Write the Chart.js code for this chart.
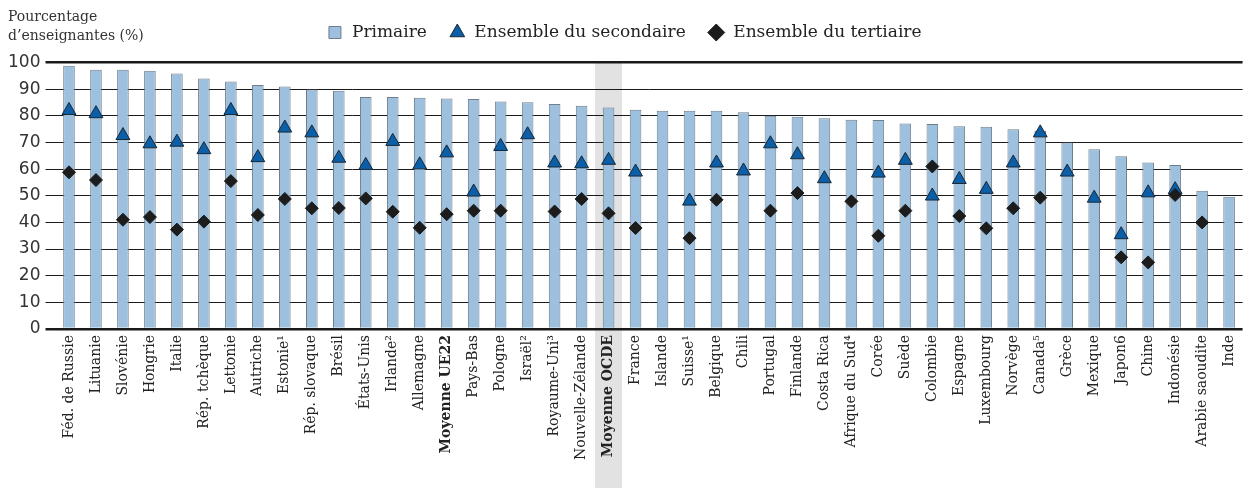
<!DOCTYPE html>
<html>
<head>
<meta charset="utf-8">
<script src="https://cdn.jsdelivr.net/npm/chart.js@4.4.0/dist/chart.umd.min.js"></script>
<style>
  html, body { margin: 0; padding: 0; background: #fff; }
</style>
</head>
<body>
<canvas id="grafico" width="1252" height="490"></canvas>
<script>
/* DADOS */
var pays = ["Féd. de Russie","Lituanie","Slovénie","Hongrie","Italie","Rép. tchèque","Lettonie","Autriche","Estonie¹","Rép. slovaque","Brésil","États-Unis","Irlande²","Allemagne","Moyenne UE22","Pays-Bas","Pologne","Israël²","Royaume-Uni³","Nouvelle-Zélande","Moyenne OCDE","France","Islande","Suisse¹","Belgique","Chili","Portugal","Finlande","Costa Rica","Afrique du Sud⁴","Corée","Suède","Colombie","Espagne","Luxembourg","Norvège","Canada⁵","Grèce","Mexique","Japon6","Chine","Indonésie","Arabie saoudite","Inde"];

var primaire = [98.8,97.3,97.3,96.9,95.9,94,92.9,91.6,91,89.9,89.4,87.1,87.1,86.8,86.5,86.3,85.4,85.1,84.4,83.8,83.1,82.3,81.9,81.9,81.9,81.3,80,79.6,79.1,78.5,78.4,77.1,76.9,76.1,75.9,75,74.4,70,67.5,64.8,62.5,61.5,51.9,49.6];

var secondaire = [82,80.8,72.6,69.5,70.1,67.3,82,64.3,75.4,73.6,64.1,61.4,70.4,61.6,66.1,51.4,68.5,72.9,62.3,62,63.3,58.9,null,48,62.3,59.3,69.5,65.4,56.4,null,58.5,63.3,49.9,56.1,52.4,62.3,73.6,58.9,49.1,35.4,51.1,52.3,null,null];

var tertiaire = [58.8,55.9,41,42,37.3,40.3,55.5,42.8,48.8,45.3,45.4,49,44,38,43.1,44.4,44.4,null,44.1,48.8,43.4,37.9,null,34.1,48.5,null,44.4,51,null,47.9,35,44.4,61,42.4,37.8,45.3,49.3,null,null,26.9,25,50.3,40,null];

var graduacoes = [0,10,20,30,40,50,60,70,80,90,100];

var tituloY = ["Pourcentage", "d’enseignantes (%)"];

/* FAIXA CINZA MOYENNE OCDE */
var faixaMedia = {
    id: "faixaMedia",
    beforeDraw(chart) {
        var ctx = chart.ctx;
        var x = chart.scales.x;
        var i = pays.indexOf("Moyenne OCDE");
        var w = x.getPixelForValue(1) - x.getPixelForValue(0);
        var cx = x.getPixelForValue(i);
        ctx.save();
        ctx.fillStyle = "#e2e2e2";
        ctx.fillRect(cx - w / 2, chart.chartArea.top, w, chart.height - chart.chartArea.top - 2);
        ctx.restore();
    }
};

/* TITULO DO EIXO Y + LEGENDA UM POUCO MAIS ALTA */
var tituloEixo = {
    id: "tituloEixo",
    afterLayout(chart) {
        chart.legend.top -= 11.5;
        chart.legend.bottom -= 11.5;
    },
    afterDraw(chart) {
        var ctx = chart.ctx;
        ctx.save();
        ctx.fillStyle = "#333";
        ctx.font = "14px 'DejaVu Serif'";
        ctx.textBaseline = "alphabetic";
        ctx.fillText(tituloY[0], 8, 21);
        ctx.fillText(tituloY[1], 8, 40);
        ctx.restore();
    }
};

var ctx = document.getElementById("grafico");

var chartGraph = new Chart(ctx, {
    type: "bar",
    data: {
        labels: pays,
        datasets: [{
            label: "Primaire",
            data: primaire,
            backgroundColor: "#9dc0de",
            borderColor: "#6e7e8a",
            borderWidth: 1,
            barPercentage: 0.43,
            categoryPercentage: 1,
            pointStyle: "rect",
            order: 3
        }, {
            type: "line",
            label: "Ensemble du secondaire",
            data: secondaire,
            showLine: false,
            pointStyle: "triangle",
            pointRadius: 8,
            pointBackgroundColor: "#0b5ea8",
            pointBorderColor: "#1b2733",
            pointBorderWidth: 1,
            backgroundColor: "#0b5ea8",
            borderColor: "#1b2733",
            borderWidth: 1,
            order: 2
        }, {
            type: "line",
            label: "Ensemble du tertiaire",
            data: tertiaire,
            showLine: false,
            pointStyle: "rectRot",
            pointRadius: 6.5,
            pointBackgroundColor: "#1c1c1c",
            pointBorderColor: "#1c1c1c",
            pointBorderWidth: 1,
            backgroundColor: "#1c1c1c",
            borderColor: "#1c1c1c",
            borderWidth: 1,
            order: 1
        }]
    },
    options: {
        responsive: false,
        animation: false,
        layout: { padding: { top: 13.5, right: 4, bottom: 24, left: 0 } },
        plugins: {
            tooltip: { enabled: false },
            legend: {
                position: "top",
                labels: {
                    usePointStyle: true,
                    boxHeight: 12,
                    padding: 22,
                    color: "#222",
                    font: { family: "'DejaVu Serif'", size: 17 },
                    sort: function(a, b) { return a.datasetIndex - b.datasetIndex; }
                }
            }
        },
        scales: {
            x: {
                offset: true,
                grid: { display: false, drawTicks: false },
                border: { display: false },
                ticks: {
                    autoSkip: false,
                    maxRotation: 90,
                    minRotation: 90,
                    padding: 6,
                    color: "#222",
                    font: function(c) {
                        var nom = pays[c.index] || "";
                        return {
                            family: "'DejaVu Serif'",
                            size: 14,
                            weight: nom.indexOf("Moyenne") === 0 ? "bold" : "normal"
                        };
                    }
                }
            },
            y: {
                min: 0,
                max: 100,
                afterBuildTicks: function(s) {
                    s.ticks = graduacoes.map(function(v) { return { value: v }; });
                },
                afterFit: function(s) { s.width = 55.5; },
                border: { display: false },
                grid: {
                    color: "#1a1a1a",
                    tickLength: 10,
                    lineWidth: function(c) {
                        return (c.tick && (c.tick.value === 0 || c.tick.value === 100)) ? 2.5 : 1;
                    }
                },
                ticks: {
                    padding: 5,
                    color: "#333",
                    font: { family: "'DejaVu Sans'", size: 17 }
                }
            }
        }
    },
    plugins: [faixaMedia, tituloEixo]
});
</script>
</body>
</html>
